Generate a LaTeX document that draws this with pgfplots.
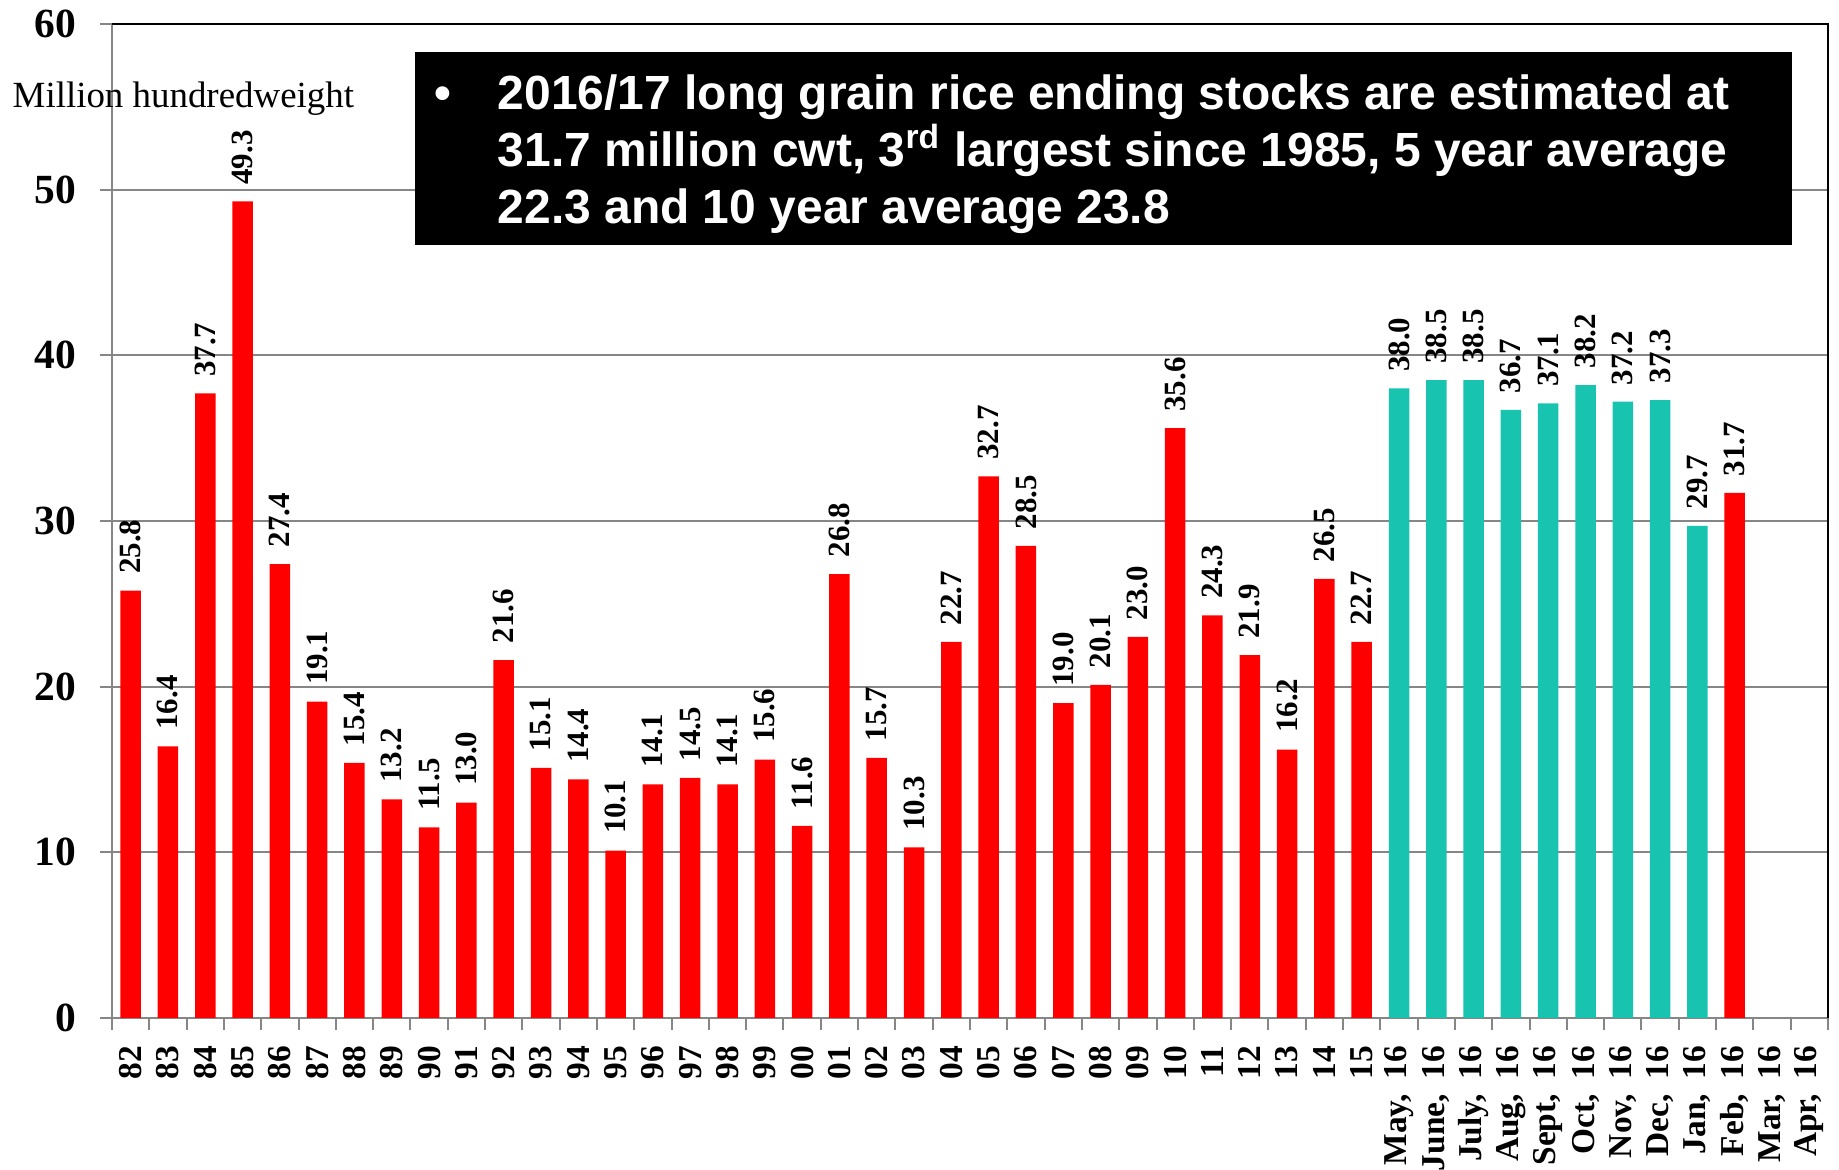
\documentclass[border=0pt]{standalone}
\usepackage{pgfplots}
\pgfplotsset{compat=1.18}
\usepackage{fontspec}
\setmainfont{Liberation Serif}
\newfontfamily\arial{Liberation Sans}
\definecolor{barred}{RGB}{255,0,0}
\definecolor{barteal}{RGB}{24,196,176}
\definecolor{axgray}{RGB}{134,134,134}
\begin{document}
\begin{tikzpicture}
\path[use as bounding box] (0,0) rectangle (183.9mm,117mm);
\begin{axis}[
  at={(11.2mm,15.2mm)}, anchor=south west,
  scale only axis, width=171.6mm, height=99.4mm,
  xmin=-0.5, xmax=45.5, ymin=0, ymax=60,
  /pgf/number format/assume math mode=true,
  ytick={0,10,...,60},
  xtick={0,...,45},
  xticklabels={82,83,84,85,86,87,88,89,90,91,92,93,94,95,96,97,98,99,00,01,02,03,04,05,06,07,08,09,10,11,12,13,14,15,
    {May,\hspace{1.5mm}16},{June,\hspace{1.5mm}16},{July,\hspace{1.5mm}16},{Aug,\hspace{1.5mm}16},{Sept,\hspace{1.5mm}16},{Oct,\hspace{1.5mm}16},
    {Nov,\hspace{1.5mm}16},{Dec,\hspace{1.5mm}16},{Jan,\hspace{1.5mm}16},{Feb,\hspace{1.5mm}16},{Mar,\hspace{1.5mm}16},{Apr,\hspace{1.5mm}16}},
  xtick style={draw=none},
  extra x ticks={-0.5,0.5,...,45.5},
  extra x tick labels={},
  extra x tick style={xtick style={draw=axgray, line width=0.2mm}, major tick length=1.2mm, grid=none},
  axis x line*=bottom, axis y line*=left,
  axis line style={draw=axgray, line width=0.2mm},
  tick align=outside, major tick length=1.2mm,
  ytick style={draw=axgray, line width=0.2mm},
  ymajorgrids, major grid style={draw=axgray, line width=0.2mm},
  yticklabel style={font=\fontsize{11.8}{13}\selectfont\bfseries, anchor=east, inner sep=0pt, xshift=-2.3mm},
  xticklabel style={font=\fontsize{9.5}{11}\selectfont\bfseries, rotate=90, anchor=east, inner ysep=0pt, inner xsep=1.5mm},
  nodes near coords={\pgfmathprintnumber[fixed,zerofill,precision=1,assume math mode=true]{\pgfplotspointmeta}},
  every node near coord/.append style={rotate=90, anchor=west, inner xsep=1.6mm, inner ysep=0pt, font=\fontsize{8.8}{10}\selectfont\bfseries, text=black},
  clip=false,
]
\addplot[ybar, bar width=2.05mm, bar shift=0pt, fill=barred, draw=none] coordinates {
(0,25.8) (1,16.4) (2,37.7) (3,49.3) (4,27.4) (5,19.1) (6,15.4) (7,13.2) (8,11.5) (9,13.0)
(10,21.6) (11,15.1) (12,14.4) (13,10.1) (14,14.1) (15,14.5) (16,14.1) (17,15.6) (18,11.6) (19,26.8)
(20,15.7) (21,10.3) (22,22.7) (23,32.7) (24,28.5) (25,19.0) (26,20.1) (27,23.0) (28,35.6) (29,24.3)
(30,21.9) (31,16.2) (32,26.5) (33,22.7) (43,31.7)};
\addplot[ybar, bar width=2.05mm, bar shift=0pt, fill=barteal, draw=none] coordinates {
(34,38.0) (35,38.5) (36,38.5) (37,36.7) (38,37.1) (39,38.2) (40,37.2) (41,37.3) (42,29.7)};
\draw[black, line width=0.15mm] (rel axis cs:0,1) -- (rel axis cs:1,1) -- (rel axis cs:1,0);
\end{axis}
\node[anchor=base west, inner sep=0pt, font=\fontsize{10.5}{12}\selectfont] at (1.2mm,106.2mm) {Million hundredweight};
\fill[black] (41.5mm,92.5mm) rectangle (179.2mm,111.8mm);
\begin{scope}[every node/.style={anchor=base west, inner sep=0pt, text=white, font=\arial\bfseries\fontsize{13.65}{16}\selectfont}]
\node at (43.4mm,106.05mm) {\textbullet};
\node at (49.7mm,106.05mm) {2016/17 long grain rice ending stocks are estimated at};
\node at (49.7mm,100.35mm) {31.7 million cwt, 3\textsuperscript{rd} largest since 1985, 5 year average};
\node at (49.7mm,94.65mm) {22.3 and 10 year average 23.8};
\end{scope}
\end{tikzpicture}
\end{document}
